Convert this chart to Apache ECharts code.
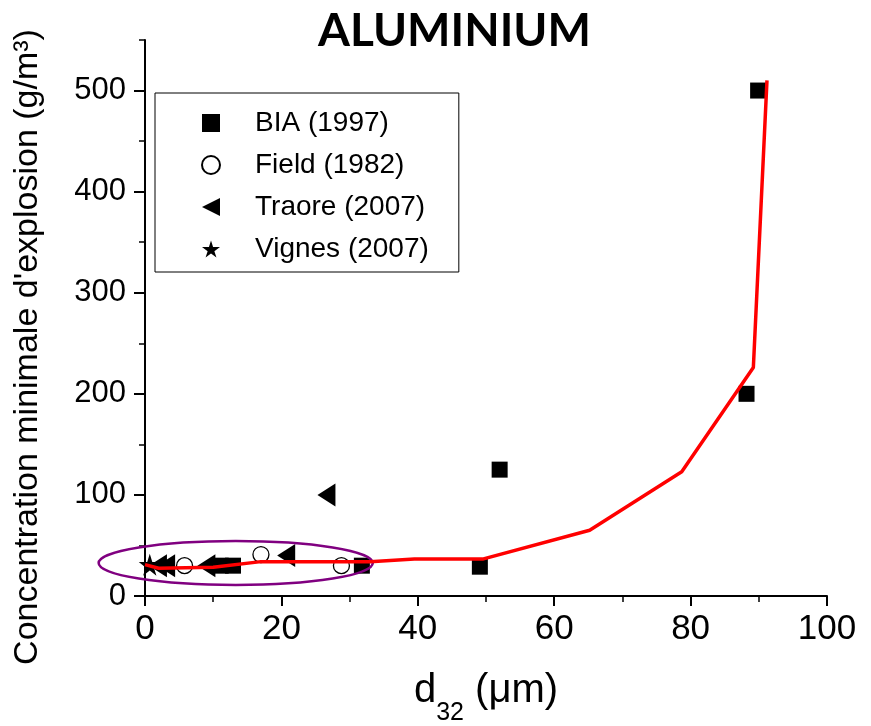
<!DOCTYPE html>
<html>
<head>
<meta charset="utf-8">
<script src="https://cdn.jsdelivr.net/npm/echarts@6/dist/echarts.min.js"></script>
<style>html,body{margin:0;padding:0;background:#fff;}#c{width:871px;height:726px;}</style>
</head>
<body>
<div id="c"></div>
<script>
// ---- data ----
const biaData = [[11.1, 30], [12.9, 30], [31.8, 30], [49.1, 29], [52, 125], [88.2, 200], [89.9, 500]];
const fieldData = [[5.8, 30], [17, 41], [28.8, 30]];
const traoreData = [[1.9, 30], [3.1, 30], [9, 30], [20.7, 40], [26.6, 100]];
const vignesData = [[0.7, 31]];
const fitLine = [[0, 31], [2, 27.5], [10, 28.5], [17, 34], [33, 34], [39.5, 36.5], [49.5, 36.5], [65.2, 65], [78.7, 123], [89.2, 226], [91.2, 510]];
const seriesNames = ['BIA (1997)', 'Field (1982)', 'Traore (2007)', 'Vignes (2007)'];
const yTickLabels = [0, 100, 200, 300, 400, 500];
const yMinorTicks = [50, 150, 250, 350, 450, 550];
const xTickLabels = [0, 20, 40, 60, 80, 100];
// annotation ellipse in data units: [cx, cy, rx, ry]
const ellipseData = [13.3, 32.6, 20.1, 21.7];

const STAR = 'path://M50,0 L61,35 L98,35 L68,57 L79,91 L50,70 L21,91 L32,57 L2,35 L39,35 Z';
const TRI_LEFT = 'path://M0,50 L100,0 L100,100 Z';
const FONT = 'Liberation Sans';

const chart = echarts.init(document.getElementById('c'), null, {renderer: 'canvas'});

const option = {
  backgroundColor: '#fff',
  animation: false,
  title: {
    text: 'ALUMINIUM',
    left: 313,
    top: 3,
    textStyle: {fontFamily: 'Lato', fontWeight: 'bold', fontSize: 46, color: '#000'}
  },
  grid: {left: 145, right: 44, top: 40, bottom: 130, containLabel: false, outerBoundsMode: 'none'},
  legend: {
    orient: 'vertical',
    left: 155,
    top: 93,
    padding: [15, 30, 8, 46],
    itemGap: 12,
    itemWidth: 18,
    itemHeight: 18,
    borderColor: '#000',
    borderWidth: 1,
    backgroundColor: '#fff',
    textStyle: {fontFamily: FONT, fontSize: 28, color: '#000', lineHeight: 30, padding: [0, 0, 0, 30]},
    data: [
      {name: seriesNames[0], icon: 'rect'},
      {name: seriesNames[1], icon: 'circle'},
      {name: seriesNames[2], icon: TRI_LEFT},
      {name: seriesNames[3], icon: STAR}
    ]
  },
  xAxis: {
    type: 'value',
    min: 0, max: 100, interval: 20,
    name: '{d|d}{sub|32}{d| (μm)}',
    nameLocation: 'middle',
    nameGap: 75,
    nameTextStyle: {
      fontFamily: FONT, color: '#000',
      rich: {
        d: {fontFamily: FONT, fontSize: 40, color: '#000', verticalAlign: 'bottom'},
        sub: {fontFamily: FONT, fontSize: 25, color: '#000', verticalAlign: 'bottom', padding: [0, 0, -15, 0]}
      }
    },
    axisLine: {lineStyle: {color: '#000', width: 2}},
    axisTick: {inside: false, length: 10, lineStyle: {color: '#000', width: 2}},
    minorTick: {show: true, splitNumber: 2, length: 6, lineStyle: {color: '#000', width: 1.5}},
    axisLabel: {fontFamily: FONT, fontSize: 35, color: '#000', margin: 16,
      formatter: v => xTickLabels.indexOf(v) >= 0 ? String(v) : ''},
    splitLine: {show: false}
  },
  yAxis: [
    {
      type: 'value', position: 'left',
      min: 0, max: 550, interval: 50,
      name: "Concentration minimale d'explosion (g/m³)",
      nameLocation: 'middle',
      nameGap: 100,
      nameRotate: 90,
      nameTextStyle: {fontFamily: FONT, fontSize: 34, color: '#000', padding: [0, 58, 0, 0]},
      axisLine: {lineStyle: {color: '#000', width: 2}},
      axisTick: {inside: false, length: 11, customValues: yTickLabels, lineStyle: {color: '#000', width: 2}},
      axisLabel: {fontFamily: FONT, fontSize: 31, color: '#000', margin: 19, customValues: yTickLabels},
      splitLine: {show: false}
    },
    {
      type: 'value', position: 'left', offset: 0,
      min: 0, max: 550, interval: 50,
      axisLine: {show: false},
      axisTick: {inside: false, length: 6, customValues: yMinorTicks, lineStyle: {color: '#000', width: 1.5}},
      axisLabel: {show: false},
      splitLine: {show: false}
    }
  ],
  series: [
    {
      name: seriesNames[0], type: 'scatter', data: biaData,
      symbol: 'rect', symbolSize: 16,
      itemStyle: {color: '#000', opacity: 1}, z: 3
    },
    {
      name: seriesNames[1], type: 'scatter', data: fieldData,
      symbol: 'circle', symbolSize: 16,
      itemStyle: {color: '#fff', borderColor: '#000', borderWidth: 1.3, opacity: 1}, z: 3
    },
    {
      name: seriesNames[2], type: 'scatter', data: traoreData,
      symbol: TRI_LEFT, symbolSize: [18, 23],
      itemStyle: {color: '#000', opacity: 1}, z: 3
    },
    {
      name: seriesNames[3], type: 'scatter', data: vignesData,
      symbol: STAR, symbolSize: 22,
      itemStyle: {color: '#000', opacity: 1}, z: 3
    },
    {
      name: 'fit', type: 'line', data: fitLine,
      showSymbol: false, symbol: 'none', smooth: false,
      lineStyle: {color: '#ff0000', width: 3.5},
      itemStyle: {color: '#ff0000'},
      z: 5, silent: true
    }
  ]
};
chart.setOption(option);

// draw annotation ellipse from data coordinates
const c0 = chart.convertToPixel({gridIndex: 0}, [ellipseData[0], ellipseData[1]]);
const cx1 = chart.convertToPixel({gridIndex: 0}, [ellipseData[0] + ellipseData[2], ellipseData[1]]);
const cy1 = chart.convertToPixel({gridIndex: 0}, [ellipseData[0], ellipseData[1] + ellipseData[3]]);
chart.setOption({
  graphic: [{
    type: 'ellipse',
    shape: {cx: c0[0], cy: c0[1], rx: Math.abs(cx1[0] - c0[0]), ry: Math.abs(c0[1] - cy1[1])},
    style: {fill: 'none', stroke: '#800080', lineWidth: 2.5},
    z: 4, silent: true
  }]
});
</script>
</body>
</html>
